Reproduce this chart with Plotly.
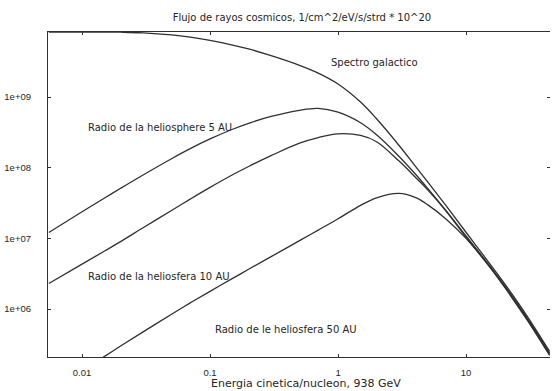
import plotly.graph_objects as go
import math

# Kinetic energy per nucleon (GeV)
energy = [0.0055, 0.01, 0.015, 0.02, 0.03, 0.05, 0.07, 0.1, 0.15, 0.2, 0.3, 0.5, 0.7,
          1, 1.5, 2, 3, 4, 5, 7, 10, 15, 20, 30, 45]

galactic = [8.32e9, 8.32e9, 8.30e9, 8.26e9, 8.09e9, 7.57e9, 7.03e9, 6.32e9, 5.44e9, 4.79e9,
            3.85e9, 2.81e9, 2.18e9, 1.53e9, 8.49e8, 4.92e8, 2.06e8, 1.06e8, 6.35e7, 2.88e7,
            1.22e7, 4.62e6, 2.29e6, 7.96e5, 2.51e5]

helio_5au = [1.21e7, 2.38e7, 3.73e7, 5.11e7, 7.89e7, 1.34e8, 1.86e8, 2.55e8, 3.50e8, 4.25e8,
             5.31e8, 6.49e8, 6.90e8, 6.10e8, 4.32e8, 2.92e8, 1.44e8, 8.20e7, 5.13e7, 2.45e7,
             1.08e7, 4.27e6, 2.14e6, 7.50e5, 2.37e5]

helio_10au = [2.30e6, 4.31e6, 6.62e6, 8.99e6, 1.41e7, 2.48e7, 3.59e7, 5.26e7, 7.94e7, 1.04e8,
              1.48e8, 2.22e8, 2.67e8, 3.01e8, 2.86e8, 2.33e8, 1.24e8, 7.40e7, 4.90e7, 2.42e7,
              1.04e7, 4.20e6, 2.10e6, 7.19e5, 2.26e5]

helio_50au = [6.76e4, 1.35e5, 2.14e5, 2.99e5, 4.75e5, 8.43e5, 1.22e6, 1.78e6, 2.71e6, 3.65e6,
              5.51e6, 9.27e6, 1.31e7, 1.89e7, 2.93e7, 3.74e7, 4.32e7, 3.79e7, 3.00e7, 1.87e7,
              1.00e7, 4.12e6, 2.04e6, 7.00e5, 2.20e5]

x_tickvals = [0.01, 0.1, 1, 10]
x_ticktext = ["0.01", "0.1", "1", "10"]
y_tickvals = [1e6, 1e7, 1e8, 1e9]
y_ticktext = ["1e+06", "1e+07", "1e+08", "1e+09"]

labels = [
    ("Spectro galactico", 0.851, 3.13e9),
    ("Radio de la heliosphere 5 AU", 0.0107, 3.76e8),
    ("Radio de la heliosfera 10 AU", 0.0107, 2.93e6),
    ("Radio de le heliosfera 50 AU", 0.1054, 5.05e5),
]

TEXT_FONT = "DejaVu Sans"
TICK_FONT = "Liberation Sans"
INK = "#262626"
LINE = "#303030"
X_RANGE = [math.log10(0.00542), math.log10(45.3)]
Y_RANGE = [5.321, 9.92]

fig = go.Figure()
for ys in [galactic, helio_5au, helio_10au, helio_50au]:
    fig.add_trace(go.Scatter(
        x=energy, y=ys, mode="lines",
        line=dict(color=LINE, width=1.3, shape="spline", smoothing=1.0),
        showlegend=False, hoverinfo="skip"))

# invisible trace so the right-hand tick axis is drawn
fig.add_trace(go.Scatter(x=[energy[0]], y=[galactic[0]], yaxis="y2", mode="markers",
                         marker=dict(opacity=0), showlegend=False, hoverinfo="skip"))

for text, lx, ly in labels:
    fig.add_annotation(x=math.log10(lx), y=math.log10(ly), text=text, showarrow=False,
                       xanchor="left", yanchor="middle",
                       font=dict(family=TEXT_FONT, size=10, color=INK))

fig.add_annotation(xref="paper", yref="paper", x=0.514, y=-0.08,
                   text="Energia cinetica/nucleon, 938 GeV", showarrow=False,
                   xanchor="center", yanchor="middle",
                   font=dict(family=TEXT_FONT, size=11, color=INK))

fig.update_layout(
    width=552, height=391,
    margin=dict(l=48, r=2, t=32, b=34),
    paper_bgcolor="white", plot_bgcolor="white",
    title=dict(text="Flujo de rayos cosmicos, 1/cm^2/eV/s/strd * 10^20",
               x=0.547, xanchor="center", y=0.955, yanchor="middle",
               font=dict(family=TEXT_FONT, size=10, color=INK)),
    font=dict(family=TICK_FONT, size=9.5, color=INK),
    xaxis=dict(
        type="log", range=X_RANGE,
        tickvals=x_tickvals, ticktext=x_ticktext,
        ticks="inside", ticklen=3, tickcolor=LINE, tickwidth=1,
        showline=True, linecolor=LINE, linewidth=1.2, mirror="ticks",
        showgrid=False, zeroline=False, ticklabelstandoff=6,
        tickfont=dict(family=TICK_FONT, size=9.5, color=INK),
    ),
    yaxis=dict(
        type="log", range=Y_RANGE,
        tickvals=y_tickvals, ticktext=y_ticktext,
        ticks="inside", ticklen=3, tickcolor=LINE, tickwidth=1,
        showline=True, linecolor=LINE, linewidth=1.2, mirror=False,
        showgrid=False, zeroline=False, ticklabelstandoff=14,
        tickfont=dict(family=TICK_FONT, size=9.5, color=INK),
    ),
    yaxis2=dict(
        type="log", range=Y_RANGE, overlaying="y", side="right",
        tickvals=y_tickvals, showticklabels=False,
        ticks="inside", ticklen=3, tickcolor=LINE, tickwidth=1,
        showline=False, showgrid=False, zeroline=False,
    ),
)

fig.write_html("out.html")
